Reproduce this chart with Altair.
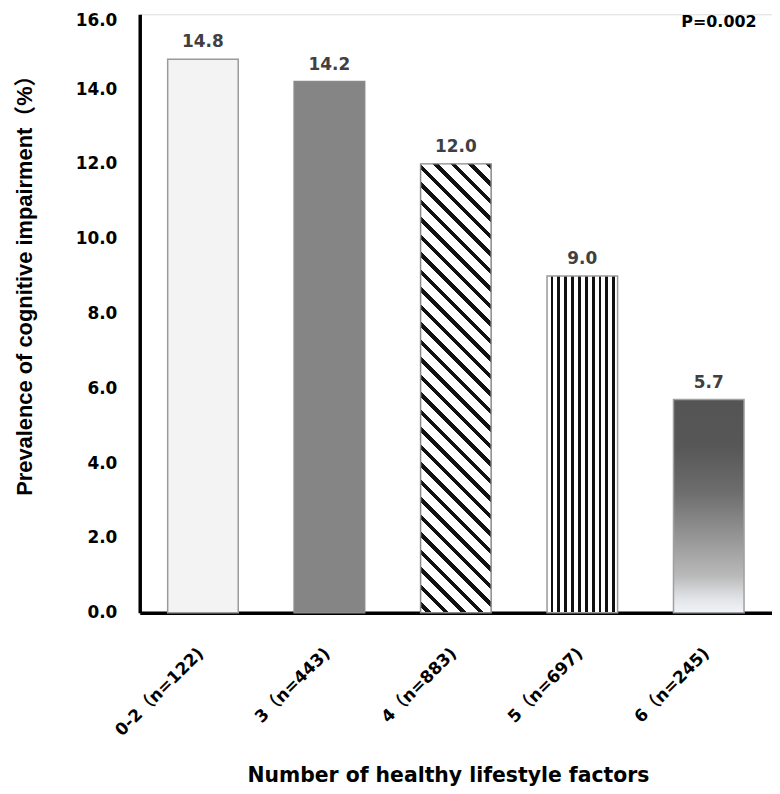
import altair as alt
import pandas as pd
import math

categories = ["0-2（n=122)", "3（n=443)", "4（n=883)", "5（n=697)", "6（n=245)"]
prevalence = [14.8, 14.2, 12.0, 9.0, 5.7]
y_ticks = [0, 2, 4, 6, 8, 10, 12, 14, 16]
p_label = "P=0.002"

df = pd.DataFrame({"cat": categories, "val": prevalence})

W_PLOT, H_PLOT = 636, 602
Y_MAX = 16
BAR_W = 71.0

# ---- fill styles (gradients used as stripe textures) ----
def hard_stops(segments):
    stops = []
    for a, b, col in segments:
        stops.append({"offset": max(0.0, min(1.0, a)), "color": col})
        stops.append({"offset": max(0.0, min(1.0, b)), "color": col})
    return stops

# vertical stripes (bar 4)
period, blk, first = 6.9, 2.8, 5.0
segs = []
c = first - blk / 2
segs.append((0.0, c / BAR_W, "#ffffff"))
while c < BAR_W:
    segs.append((c / BAR_W, min(c + blk, BAR_W) / BAR_W, "#111111"))
    nxt = c + period
    segs.append((min(c + blk, BAR_W) / BAR_W, min(nxt, BAR_W) / BAR_W, "#ffffff"))
    c = nxt
vert_grad = {"gradient": "linear", "x1": 0, "y1": 0, "x2": 1, "y2": 0,
             "stops": hard_stops(segs)}

# diagonal stripes (bar 3)
H3 = prevalence[2] / Y_MAX * H_PLOT
r = BAR_W / H3
k = (1 + r) / (1 + r * r)
span = BAR_W + H3
P, B = 17.6, 5.6
segs = []
c0 = math.floor(-BAR_W / P) * P
while c0 < H3:
    a, b = c0, c0 + B
    segs.append(((a + BAR_W) / span, (b + BAR_W) / span, "#111111"))
    segs.append(((b + BAR_W) / span, (c0 + P + BAR_W) / span, "#ffffff"))
    c0 += P
diag_grad = {"gradient": "linear", "x1": 1, "y1": 0, "x2": 1 - k * r, "y2": k,
             "stops": hard_stops(segs)}

# vertical shading (bar 5)
shade_grad = {"gradient": "linear", "x1": 0, "y1": 0, "x2": 0, "y2": 1,
              "stops": [
                  {"offset": 0.0, "color": "#545454"},
                  {"offset": 0.22, "color": "#575757"},
                  {"offset": 0.44, "color": "#6e6e6e"},
                  {"offset": 0.67, "color": "#9a9a9a"},
                  {"offset": 0.83, "color": "#bababa"},
                  {"offset": 0.93, "color": "#e0e3e6"},
                  {"offset": 1.0, "color": "#f0f3f8"},
              ]}

fills = ["#f3f3f3", "#858585", diag_grad, vert_grad, shade_grad]
strokes = ["#9a9a9a", "#8a8a8a", "#8a8a8a", "#9a9a9a", "#a0a0a0"]

x_enc = alt.X(
    "cat:N", sort=categories,
    scale=alt.Scale(paddingInner=0.442, paddingOuter=0.221),
    axis=alt.Axis(
        title="Number of healthy lifestyle factors",
        titleFont="DejaVu Sans", titleFontSize=20.5, titleFontWeight="bold",
        titleColor="#000000", titleX=310, titleY=170,
        titleBaseline="alphabetic", titleAlign="center",
        labelAngle=-45, labelAlign="right", labelBaseline="middle",
        labelFont="DejaVu Sans, Noto Sans CJK SC", labelFontSize=17,
        labelFontWeight="bold", labelColor="#000000",
        labelPadding=38, labelOffset=-2,
        ticks=False, tickSize=0,
        domainColor="#000000", domainWidth=3.5,
        labelOverlap=False,
    ),
)
y_enc = alt.Y(
    "val:Q",
    scale=alt.Scale(domain=[0, Y_MAX], nice=False),
    axis=alt.Axis(
        title="Prevalence of cognitive impairment（%）",
        titleFont="Liberation Sans, Noto Sans CJK SC", titleFontSize=22,
        titleFontWeight="bold", titleColor="#000000",
        titleAngle=270, titleX=-108.5, titleY=267,
        titleAlign="center", titleBaseline="alphabetic",
        values=y_ticks, format=".1f",
        labelFont="DejaVu Sans", labelFontSize=17, labelFontWeight="bold",
        labelColor="#000000", labelPadding=23,
        labelOffset={"condition": {"test": "datum.value == 16", "value": 6}, "value": 0},
        ticks=False, tickSize=0, grid=False,
        domainColor="#000000", domainWidth=3.5,
    ),
)

base = alt.Chart(df)
layers = []
for i, cat in enumerate(categories):
    layers.append(
        base.transform_filter(alt.datum.cat == cat)
        .mark_bar(fill=fills[i], stroke=strokes[i], strokeWidth=1.5)
        .encode(x=x_enc, y=y_enc)
    )

labels = base.mark_text(
    dy=-12, baseline="alphabetic", align="center",
    font="DejaVu Sans", fontSize=17, fontWeight="bold", color="#404040",
).encode(x=x_enc, y=y_enc, text=alt.Text("val:Q", format=".1f"))

ptext = alt.Chart(pd.DataFrame({"t": [p_label]})).mark_text(
    align="right", baseline="alphabetic",
    font="DejaVu Sans", fontSize=16, fontWeight="bold", color="#000000",
).encode(x=alt.value(620.5), y=alt.value(13), text="t:N")

chart = alt.layer(*layers, labels, ptext).properties(
    width=W_PLOT, height=H_PLOT,
    autosize=alt.AutoSizeParams(type="none"),
    padding={"left": 132.5, "top": 4, "right": 0, "bottom": 172},
).configure_view(stroke=None).configure(background="#ffffff")

chart.save("out.html", embed_options={"renderer": "svg", "actions": False})
